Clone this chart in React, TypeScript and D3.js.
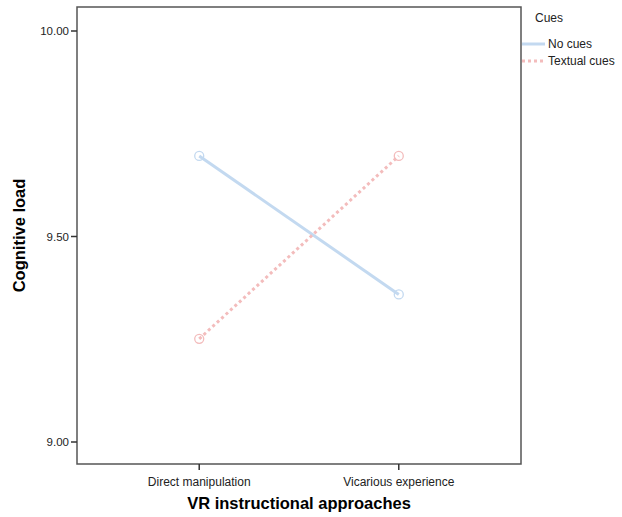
import React from "react";
import * as d3 from "d3";

const categories = ["Direct manipulation", "Vicarious experience"];
const seriesNames = ["No cues", "Textual cues"];
const noCues = [9.696, 9.359];
const textualCues = [9.251, 9.696];
const yTicks = [9.0, 9.5, 10.0];
const colors = ["#c3d9f0", "#f3bcbc"];

export default function App() {
  const W = 622, H = 517;
  const left = 77, right = 521, top = 7, bottom = 464;
  const x = d3.scalePoint<string>().domain(categories).range([left, right]).padding(0.6125);
  const y = d3.scaleLinear().domain([9, 10]).range([442, 31]);
  const series = [noCues, textualCues];
  const line = d3.line<number>().x((_, i) => x(categories[i])!).y((d) => y(d));
  const font = "'Liberation Sans', Arial, Helvetica, sans-serif";
  return (
    <svg width={W} height={H} style={{ position: "absolute", left: 0, top: 0 }} fontFamily={font}>
      <rect x={0} y={0} width={W} height={H} fill="#fff" />
      <rect x={left} y={top} width={right - left} height={bottom - top} fill="none" stroke="#555" strokeWidth={1.5} />
      {yTicks.map((t) => (
        <g key={t}>
          <line x1={left - 6} x2={left} y1={y(t)} y2={y(t)} stroke="#333" strokeWidth={1.5} />
          <text x={left - 8} y={y(t)} dy="0.35em" textAnchor="end" fontSize={11.5} fill="#222">
            {t.toFixed(2)}
          </text>
        </g>
      ))}
      {categories.map((c) => (
        <g key={c}>
          <line x1={x(c)} x2={x(c)} y1={bottom} y2={bottom + 6} stroke="#333" strokeWidth={1.5} />
          <text x={x(c)} y={482} dy="0.35em" textAnchor="middle" fontSize={12} fill="#222">
            {c}
          </text>
        </g>
      ))}
      {series.map((s, si) => (
        <g key={si}>
          <path
            d={line(s)!}
            fill="none"
            stroke={colors[si]}
            strokeWidth={3}
            strokeDasharray={si === 1 ? "3,3" : undefined}
          />
          {s.map((v, i) => (
            <circle key={i} cx={x(categories[i])} cy={y(v)} r={4.5} fill="none" stroke={colors[si]} strokeWidth={1.3} />
          ))}
        </g>
      ))}
      <text x={(left + right) / 2} y={509} textAnchor="middle" fontSize={16.5} fontWeight="bold" fill="#000">
        VR instructional approaches
      </text>
      <text
        transform={`translate(25,${(top + bottom) / 2}) rotate(-90)`}
        textAnchor="middle"
        fontSize={16.5}
        fontWeight="bold"
        fill="#000"
      >
        Cognitive load
      </text>
      <text x={535} y={18} dy="0.35em" fontSize={12} fill="#222">Cues</text>
      {seriesNames.map((n, i) => (
        <g key={n}>
          <line
            x1={522}
            x2={545}
            y1={44 + i * 17}
            y2={44 + i * 17}
            stroke={colors[i]}
            strokeWidth={3}
            strokeDasharray={i === 1 ? "3,3" : undefined}
          />
          <text x={548} y={44 + i * 17} dy="0.35em" fontSize={12} fill="#222">{n}</text>
        </g>
      ))}
    </svg>
  );
}
